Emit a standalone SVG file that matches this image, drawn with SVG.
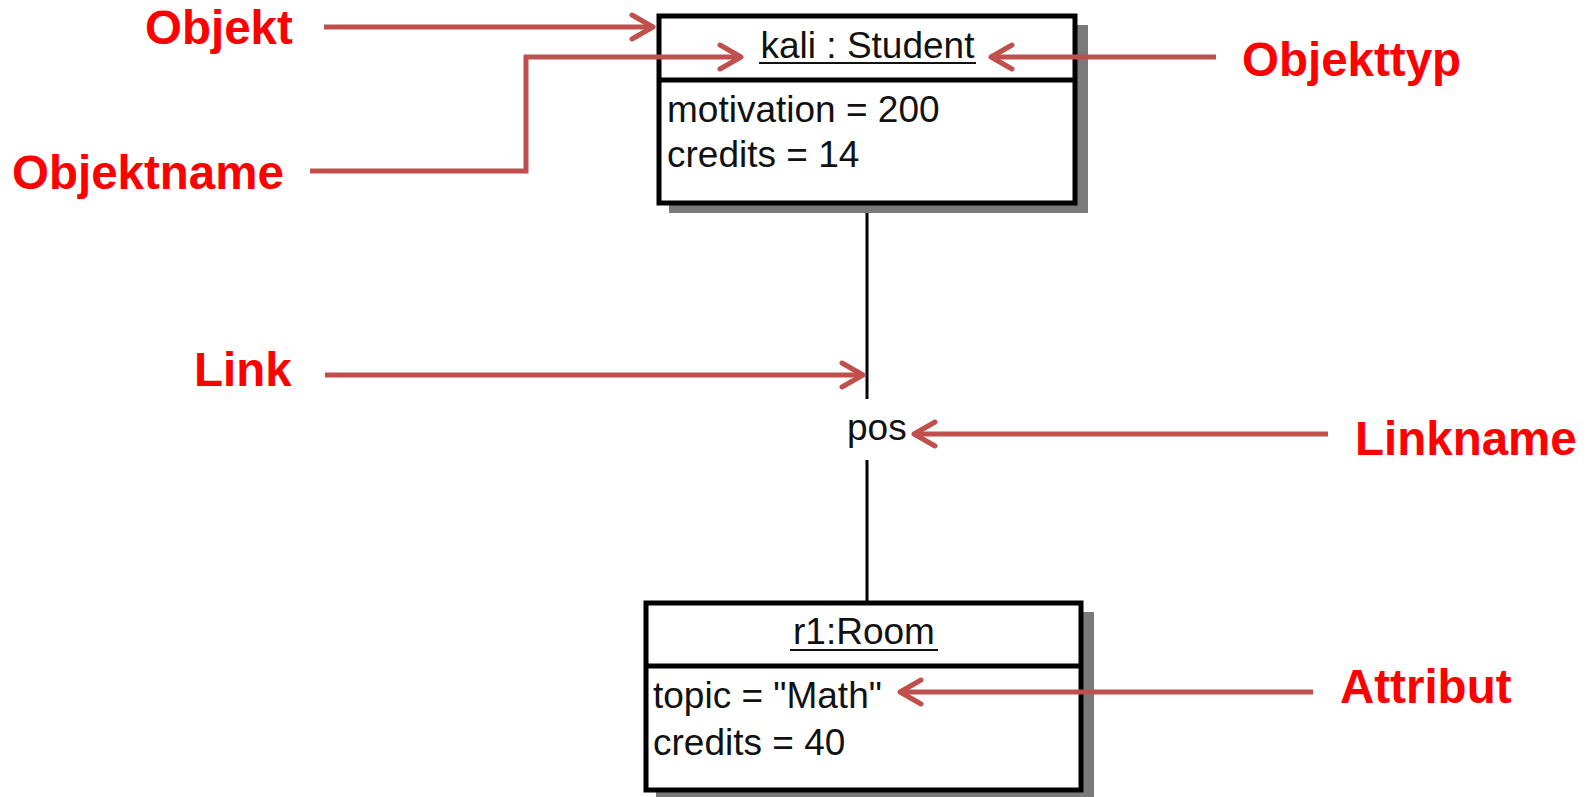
<svg xmlns="http://www.w3.org/2000/svg" width="1588" height="797" viewBox="0 0 1588 797">
<defs>
<marker id="chev" markerUnits="userSpaceOnUse" markerWidth="40" markerHeight="40" viewBox="-30 -20 40 40" refX="0" refY="0" orient="auto">
<path d="M -21,-12 L 0,0 L -21,12" fill="none" stroke="#C0504D" stroke-width="5" stroke-linecap="round" stroke-linejoin="round"/>
</marker>
</defs>
<style>
.lbl{font-family:"Liberation Sans",Arial,sans-serif;font-weight:bold;font-size:47.5px;fill:#FF0000}
.uml{font-family:"Liberation Sans",Arial,sans-serif;font-size:37px;fill:#111}
.box{fill:#fff;stroke:#000;stroke-width:5}
.shadow{fill:#7a7a7a}
.ann{fill:none;stroke:#C0504D;stroke-width:5;marker-end:url(#chev)}
.link{stroke:#000;stroke-width:3;fill:none}
</style>
<rect width="1588" height="797" fill="#fff"/>

<g id="connectors">
<line class="link" x1="867" y1="204" x2="867" y2="399"/>
<line class="link" x1="867" y1="460" x2="867" y2="601"/>
<text class="uml" x="847" y="440">pos</text>
</g>

<g id="student">
<rect class="shadow" x="669" y="25" width="419" height="188"/>
<rect class="box" x="659" y="16" width="416" height="187"/>
<line x1="659" y1="80" x2="1075" y2="80" stroke="#000" stroke-width="5"/>
<text class="uml" x="867.5" y="58" text-anchor="middle">kali : Student</text>
<line x1="759" y1="63" x2="976" y2="63" stroke="#111" stroke-width="2"/>
<text class="uml" x="667" y="122">motivation = 200</text>
<text class="uml" x="667" y="167">credits = 14</text>
</g>

<g id="room">
<rect class="shadow" x="656" y="612" width="438" height="190"/>
<rect class="box" x="646" y="603" width="435" height="187"/>
<line x1="646" y1="666" x2="1081" y2="666" stroke="#000" stroke-width="5"/>
<text class="uml" x="864" y="644" text-anchor="middle">r1:Room</text>
<line x1="790" y1="650" x2="938" y2="650" stroke="#111" stroke-width="2"/>
<text class="uml" x="653" y="708">topic = "Math"</text>
<text class="uml" x="653" y="755">credits = 40</text>
</g>

<g id="annotations">
<path class="ann" d="M 324,27 L 653,27"/>
<path class="ann" d="M 310,171 L 526,171 L 526,57 L 741,57"/>
<path class="ann" d="M 1216,57 L 991,57"/>
<path class="ann" d="M 325,375 L 863,375"/>
<path class="ann" d="M 1328,434 L 914,434"/>
<path class="ann" d="M 1313,692 L 900,692"/>
</g>

<g id="labels">
<text class="lbl" x="145" y="44">Objekt</text>
<text class="lbl" x="12" y="189">Objektname</text>
<text class="lbl" x="1242" y="76">Objekttyp</text>
<text class="lbl" x="194" y="386">Link</text>
<text class="lbl" x="1355" y="455">Linkname</text>
<text class="lbl" x="1340" y="703">Attribut</text>
</g>
</svg>
